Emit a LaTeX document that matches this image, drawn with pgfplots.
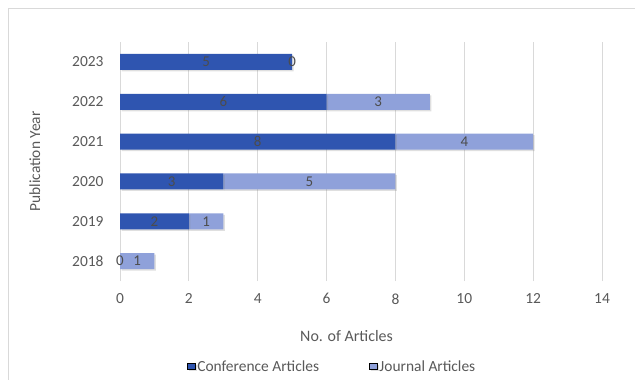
\documentclass[border=0pt]{standalone}
\usepackage{pgfplots}
\pgfplotsset{compat=1.18}
\usetikzlibrary{shadows}
\usepackage{fontspec}
\setmainfont{Carlito}
\definecolor{confc}{HTML}{2F55B0}
\definecolor{jourc}{HTML}{8FA1DA}
\definecolor{tickc}{HTML}{595959}
\definecolor{gridc}{HTML}{D9D9D9}
\begin{document}
\begin{tikzpicture}[x=1bp,y=1bp]
\useasboundingbox (0,0) rectangle (635,-379);
\draw[gridc, line width=1bp] (8,-8) rectangle (660,-400);
\begin{axis}[
  at={(120bp,-281bp)}, anchor=south west,
  scale only axis, width=482bp, height=239bp,
  xbar stacked, bar width=16bp,
  xmin=0, xmax=14, ymin=-0.5, ymax=5.5,
  xtick={0,2,...,14},
  ytick={0,...,5},
  yticklabels={2018,2019,2020,2021,2022,2023},
  axis line style={draw=none},
  major tick length=0pt,
  xmajorgrids, grid style={draw=gridc, line width=0.8bp},
  tick label style={font=\fontsize{15.5}{17}\selectfont, text=tickc},
  /pgf/number format/assume math mode=true,
  xticklabel style={yshift=-9bp},
  yticklabel style={xshift=-13bp},
  xlabel={No. of Articles},
  xlabel style={font=\fontsize{16}{18}\selectfont, text=tickc, at={(axis description cs:0.47,0)}, yshift=-46bp},
  ylabel={Publication Year},
  ylabel style={font=\fontsize{15.5}{17}\selectfont, text=tickc, yshift=25bp},
  legend style={at={(0.44,-0.36)}, anchor=center, draw=none, legend columns=2,
    font=\fontsize{15.5}{17}\selectfont, text=tickc,
    /tikz/every even column/.append style={column sep=48bp}},
]
\addplot[fill=confc, draw=none, drop shadow={opacity=0.25, shadow xshift=1.5bp, shadow yshift=-1.5bp}] coordinates {(0,0) (2,1) (3,2) (8,3) (6,4) (5,5)};
\addplot[fill=jourc, draw=none, drop shadow={opacity=0.25, shadow xshift=1.5bp, shadow yshift=-1.5bp}] coordinates {(1,0) (1,1) (5,2) (4,3) (3,4) (0,5)};
\legend{Conference Articles, Journal Articles}
\coordinate (a1) at (axis cs:0,0);
\coordinate (a2) at (axis cs:0.5,0);
\coordinate (a3) at (axis cs:1,1);
\coordinate (a4) at (axis cs:2.5,1);
\coordinate (a5) at (axis cs:1.5,2);
\coordinate (a6) at (axis cs:5.5,2);
\coordinate (a7) at (axis cs:4,3);
\coordinate (a8) at (axis cs:10,3);
\coordinate (a9) at (axis cs:3,4);
\coordinate (a10) at (axis cs:7.5,4);
\coordinate (a11) at (axis cs:2.5,5);
\coordinate (a12) at (axis cs:5,5);
\end{axis}
\begin{scope}[every node/.style={font=\fontsize{15}{17}\selectfont, text=black!70}]
\node at (a1) {0};
\node at (a2) {1};
\node at (a3) {2};
\node at (a4) {1};
\node at (a5) {3};
\node at (a6) {5};
\node at (a7) {8};
\node at (a8) {4};
\node at (a9) {6};
\node at (a10) {3};
\node at (a11) {5};
\node at (a12) {0};
\end{scope}
\end{tikzpicture}
\end{document}
